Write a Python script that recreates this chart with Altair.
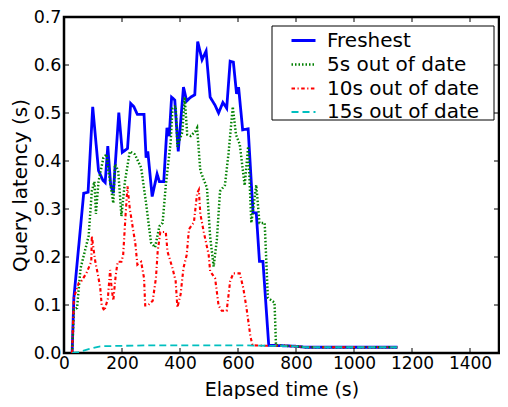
import altair as alt
import pandas as pd

SERIES = ["Freshest", "5s out of date", "10s out of date", "15s out of date"]
COLORS = ["#0000ff", "#008000", "#ff0000", "#00bfbf"]
DASHES = [[1, 0], [1.5, 2], [3.5, 2.5, 1.2, 2.5], [7, 4]]
WIDTHS = [2.8, 1.8, 2.3, 2.6]

XTICKS = [0, 200, 400, 600, 800, 1000, 1200, 1400]
YTICKS = [0.0, 0.1, 0.2, 0.3, 0.4, 0.5, 0.6, 0.7]

FRESH_T = [28, 34, 68, 83, 99, 119, 134, 142, 151, 161, 170, 189, 201, 219, 230, 241, 253, 276, 283, 289,
           304, 321, 329, 344, 355, 363, 371, 382, 394, 412, 423, 437, 451, 461, 476, 490, 504, 521, 533,
           548, 561, 573, 584, 595, 602, 616, 635, 652, 663, 674, 686, 706, 760, 800, 833, 900, 1000, 1100, 1150]
FRESH_V = [0.0, 0.115, 0.333, 0.335, 0.513, 0.38, 0.36, 0.355, 0.431, 0.35, 0.333, 0.501, 0.418, 0.426, 0.52,
           0.513, 0.497, 0.497, 0.407, 0.42, 0.326, 0.373, 0.357, 0.357, 0.469, 0.452, 0.533, 0.527, 0.42,
           0.554, 0.525, 0.533, 0.538, 0.649, 0.611, 0.629, 0.533, 0.516, 0.5, 0.522, 0.51, 0.608, 0.606,
           0.54, 0.554, 0.465, 0.467, 0.292, 0.292, 0.191, 0.191, 0.016, 0.015, 0.014, 0.012, 0.012, 0.012,
           0.012, 0.012]

S5_T = [28, 34, 45, 57, 85, 96, 105, 110, 119, 136, 147, 153, 170, 176, 187, 198, 210, 227, 244, 266, 283,
        300, 314, 329, 340, 351, 368, 374, 385, 391, 408, 416, 425, 437, 453, 459, 470, 493, 504, 516, 527,
        538, 555, 567, 582, 593, 606, 623, 635, 646, 663, 674, 692, 703, 726, 731, 760, 800, 833, 1150]
S5_V = [0.0, 0.09, 0.094, 0.176, 0.244, 0.338, 0.357, 0.29, 0.357, 0.407, 0.414, 0.38, 0.312, 0.393, 0.38,
        0.285, 0.357, 0.42, 0.414, 0.386, 0.312, 0.23, 0.22, 0.264, 0.271, 0.349, 0.441, 0.51, 0.515, 0.43,
        0.46, 0.533, 0.455, 0.452, 0.462, 0.469, 0.38, 0.344, 0.242, 0.18, 0.235, 0.337, 0.35, 0.414, 0.513,
        0.455, 0.435, 0.349, 0.43, 0.271, 0.35, 0.271, 0.271, 0.115, 0.105, 0.016, 0.015, 0.014, 0.012, 0.012]

S10_T = [28, 34, 51, 60, 77, 94, 96, 102, 108, 117, 125, 130, 139, 151, 159, 164, 170, 178, 185, 198, 204,
         212, 219, 227, 238, 246, 253, 266, 276, 280, 289, 306, 317, 323, 332, 351, 357, 374, 385, 391, 402,
         412, 423, 431, 448, 459, 465, 470, 482, 499, 504, 521, 533, 544, 561, 573, 584, 606, 618, 629, 643,
         650, 700, 760, 800, 833, 1150]
S10_V = [0.0, 0.115, 0.146, 0.15, 0.166, 0.19, 0.244, 0.216, 0.19, 0.163, 0.136, 0.099, 0.088, 0.112, 0.173,
         0.136, 0.109, 0.16, 0.19, 0.19, 0.204, 0.285, 0.347, 0.3, 0.258, 0.228, 0.184, 0.19, 0.156, 0.099,
         0.099, 0.109, 0.156, 0.211, 0.252, 0.252, 0.211, 0.177, 0.15, 0.095, 0.122, 0.177, 0.204, 0.258,
         0.272, 0.333, 0.34, 0.29, 0.252, 0.204, 0.17, 0.156, 0.099, 0.088, 0.088, 0.15, 0.166, 0.166, 0.136,
         0.095, 0.034, 0.016, 0.015, 0.015, 0.014, 0.012, 0.012]

S15_T = [28, 51, 85, 125, 200, 300, 400, 500, 600, 700, 800, 833, 1150]
S15_V = [0.0, 0.002, 0.008, 0.014, 0.015, 0.016, 0.016, 0.016, 0.016, 0.015, 0.014, 0.012, 0.012]

rows = []
for name, ts, vs in zip(SERIES, [FRESH_T, S5_T, S10_T, S15_T], [FRESH_V, S5_V, S10_V, S15_V]):
    for t, v in zip(ts, vs):
        rows.append({"series": name, "t": t, "v": v})
df = pd.DataFrame(rows)

W, H = 435, 336
FONT = "DejaVu Sans"
XTITLE = "Elapsed time (s)"
YTITLE = "Query latency (s)"

xscale = alt.Scale(domain=[0, 1500], nice=False)
yscale = alt.Scale(domain=[0, 0.7], nice=False)
xaxis = alt.Axis(values=XTICKS, format="d", ticks=False, domain=False, grid=False,
                 labelFlush=False, labelOverlap=False, labelPadding=2, labelFontSize=17,
                 titleFontSize=19, titleBaseline="alphabetic", titleY=42)
yaxis = alt.Axis(values=YTICKS, format=".1f", ticks=False, domain=False, grid=False,
                 labelFlush=False, labelOverlap=False, labelPadding=3, labelFontSize=17.5,
                 titleFontSize=20, titleBaseline="alphabetic", titleX=-38, titleY=168)

lines = alt.Chart(df).mark_line(clip=True).encode(
    x=alt.X("t:Q", scale=xscale, title=XTITLE, axis=xaxis),
    y=alt.Y("v:Q", scale=yscale, title=YTITLE, axis=yaxis),
    color=alt.Color("series:N", sort=SERIES, scale=alt.Scale(domain=SERIES, range=COLORS),
                    legend=alt.Legend(title=None, orient="none", legendX=226, legendY=10,
                                      symbolType="stroke", symbolSize=576, symbolStrokeWidth=2.3,
                                      labelFontSize=20, labelFont=FONT, labelColor="black",
                                      labelOffset=10, rowPadding=-5.5, padding=0)),
    strokeDash=alt.StrokeDash("series:N", sort=SERIES, scale=alt.Scale(domain=SERIES, range=DASHES)),
    strokeWidth=alt.StrokeWidth("series:N", scale=alt.Scale(domain=SERIES, range=WIDTHS), legend=None),
    order=alt.Order("t:Q"),
)

box = alt.Chart(pd.DataFrame({"k": [0]})).mark_rect(fill="white", stroke="black", strokeWidth=1).encode(
    x=alt.value(208), x2=alt.value(430), y=alt.value(9), y2=alt.value(103)
)

xt = pd.DataFrame({"t": XTICKS})
yt = pd.DataFrame({"v": YTICKS})
tick_b = alt.Chart(xt).mark_rule(color="black", strokeWidth=1).encode(
    x=alt.X("t:Q", scale=xscale, title=XTITLE, axis=xaxis), y=alt.value(H), y2=alt.value(H - 5))
tick_t = alt.Chart(xt).mark_rule(color="black", strokeWidth=1).encode(
    x=alt.X("t:Q", scale=xscale, title=XTITLE, axis=xaxis), y=alt.value(0), y2=alt.value(5))
tick_l = alt.Chart(yt).mark_rule(color="black", strokeWidth=1).encode(
    y=alt.Y("v:Q", scale=yscale, title=YTITLE, axis=yaxis), x=alt.value(0), x2=alt.value(5))
tick_r = alt.Chart(yt).mark_rule(color="black", strokeWidth=1).encode(
    y=alt.Y("v:Q", scale=yscale, title=YTITLE, axis=yaxis), x=alt.value(W), x2=alt.value(W - 5))

chart = alt.layer(lines, tick_b, tick_t, tick_l, tick_r, box).properties(
    width=W, height=H,
    autosize=alt.AutoSizeParams(type="none"),
    padding={"left": 56, "top": 9, "right": 1, "bottom": 46},
).configure_view(stroke="black", strokeWidth=2.5).configure_axis(
    labelFont=FONT, titleFont=FONT,
    labelColor="black", titleColor="black", titleFontWeight="normal",
)

chart.save("out.html", embed_options={"renderer": "svg", "actions": False})
